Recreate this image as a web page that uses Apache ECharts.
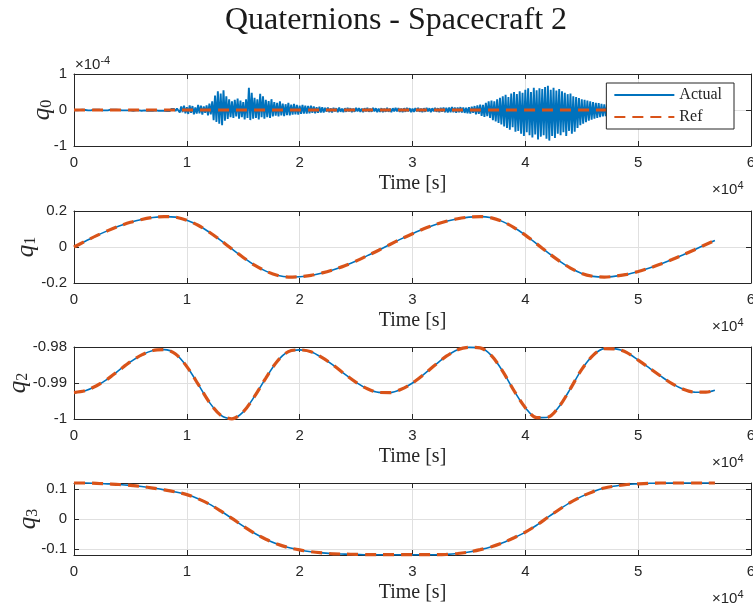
<!DOCTYPE html>
<html><head><meta charset="utf-8">
<script src="https://cdn.jsdelivr.net/npm/echarts@6/dist/echarts.min.js"></script>
<style>html,body{margin:0;padding:0;background:#fff}#c{width:753px;height:608px}</style>
</head><body><div id="c"></div>
<script>
// ---- Data ----
const timeSeconds = [0,1000,2000,3000,4000,5000,6000,7000,8000,9000,
  10000,11000,12000,13000,14000,15000,16000,17000,18000,19000,
  20000,21000,22000,23000,24000,25000,26000,27000,28000,29000,
  30000,31000,32000,33000,34000,35000,36000,37000,38000,39000,
  40000,41000,42000,43000,44000,45000,46000,47000,48000,49000,
  50000,51000,52000,53000,54000,55000,56000,56800];

// q0 (Actual) in units of 1e-4, sampled every 125 s from 0 s
const q0SampleStep = 125;
const q0ActualE4 = [
  // 0 - 9.1 ks : quiet
  0.00,0.01,-0.01,0.01,0.00,-0.01,0.01,-0.01,0.00,0.01,
  -0.01,0.01,-0.01,0.00,0.01,-0.01,0.01,-0.01,0.01,0.00,
  -0.01,0.01,-0.01,0.01,-0.01,0.00,0.01,-0.01,0.01,-0.01,
  0.01,-0.01,0.00,0.01,-0.01,0.01,-0.01,0.01,-0.01,0.01,
  -0.01,0.01,-0.02,0.01,-0.01,0.02,-0.01,0.01,-0.02,0.02,
  -0.01,0.02,-0.02,0.01,-0.02,0.02,-0.02,0.02,-0.01,0.02,
  -0.02,0.02,-0.02,0.03,-0.02,0.02,-0.03,0.02,-0.03,0.03,
  -0.02,0.03,-0.03,0.04,
  // 9.25 - 22.1 ks : first disturbance
  0.05,-0.07,0.10,-0.06,0.12,-0.09,0.08,-0.11,0.13,-0.08,
  0.11,-0.12,0.07,-0.10,0.14,-0.09,0.12,-0.13,0.10,-0.08,
  0.13,-0.15,0.18,-0.12,0.24,-0.28,0.40,-0.33,0.52,-0.38,
  0.46,-0.42,0.55,-0.30,0.38,-0.25,0.30,-0.20,0.24,-0.22,
  0.28,-0.18,0.32,-0.24,0.26,-0.20,0.22,-0.26,0.30,-0.22,
  0.62,-0.28,0.48,-0.24,0.34,-0.22,0.30,-0.26,0.45,-0.20,
  0.38,-0.24,0.28,-0.20,0.25,-0.22,0.30,-0.18,0.22,-0.16,
  0.20,-0.18,0.24,-0.15,0.18,-0.17,0.16,-0.14,0.20,-0.15,
  0.15,-0.13,0.17,-0.12,0.14,-0.13,0.12,-0.11,0.14,-0.10,
  0.12,-0.10,0.11,-0.09,0.12,-0.08,0.10,-0.09,0.08,-0.08,
  0.09,-0.07,0.08,-0.07,
  // 22.25 - 34.4 ks : low level
  0.06,-0.05,0.07,-0.06,0.05,-0.07,0.06,-0.04,0.05,-0.06,
  0.07,-0.05,0.04,-0.06,0.05,-0.05,0.06,-0.04,0.05,-0.06,
  0.04,-0.05,0.06,-0.04,0.05,-0.05,0.04,-0.06,0.05,-0.04,
  0.06,-0.05,0.04,-0.05,0.06,-0.04,0.05,-0.06,0.04,-0.05,
  0.05,-0.06,0.04,-0.05,0.06,-0.05,0.04,-0.06,0.05,-0.04,
  0.06,-0.04,0.05,-0.05,0.04,-0.06,0.05,-0.05,0.06,-0.04,
  0.05,-0.06,0.04,-0.05,0.05,-0.04,0.06,-0.05,0.04,-0.06,
  0.05,-0.05,0.06,-0.04,0.05,-0.06,0.05,-0.04,0.06,-0.05,
  0.05,-0.06,0.06,-0.05,0.07,-0.06,0.06,-0.07,0.07,-0.06,
  0.08,-0.06,0.07,-0.08,0.07,-0.06,0.08,-0.07,
  // 34.5 - 48.1 ks : second disturbance
  0.07,-0.08,0.06,-0.09,0.08,-0.10,0.09,-0.08,0.11,-0.12,
  0.13,-0.11,0.15,-0.16,0.14,-0.19,0.20,-0.17,0.24,-0.22,
  0.26,-0.28,0.24,-0.32,0.30,-0.36,0.34,-0.40,0.38,-0.46,
  0.42,-0.50,0.36,-0.55,0.46,-0.48,0.50,-0.60,0.44,-0.58,
  0.52,-0.66,0.48,-0.72,0.56,-0.62,0.60,-0.70,0.50,-0.76,
  0.62,-0.68,0.55,-0.82,0.60,-0.74,0.58,-0.70,0.64,-0.80,
  0.67,-0.85,0.56,-0.72,0.62,-0.78,0.54,-0.66,0.58,-0.70,
  0.52,-0.62,0.48,-0.72,0.44,-0.58,0.46,-0.66,0.38,-0.60,
  0.36,-0.50,0.33,-0.42,0.30,-0.38,0.28,-0.34,0.26,-0.30,
  0.24,-0.27,0.22,-0.24,0.20,-0.22,0.19,-0.20,0.17,-0.18,
  0.16,-0.17,0.15,-0.14,0.13,-0.14,0.12,-0.12,0.11,-0.11,
  // 48.25 - 56.75 ks : decay
  0.10,-0.10,0.09,-0.10,0.10,-0.09,0.08,-0.09,0.09,-0.08,
  0.08,-0.08,0.07,-0.08,0.08,-0.07,0.07,-0.07,0.06,-0.07,
  0.07,-0.06,0.06,-0.06,0.05,-0.06,0.06,-0.05,0.05,-0.05,
  0.06,-0.05,0.05,-0.04,0.05,-0.05,0.04,-0.05,0.04,-0.04,
  0.05,-0.04,0.04,-0.04,0.03,-0.04,0.04,-0.03,0.04,-0.03,
  0.03,-0.04,0.03,-0.03,0.04,-0.03,0.03,-0.03,0.02,-0.03,
  0.03,-0.02,0.03,-0.03,0.02,-0.03,0.02,-0.02,0.03
];
const q0RefE4 = [0,0,0,0,0,0,0,0,0,0, 0,0,0,0,0,0,0,0,0,0, 0,0,0,0,0,0,0,0,0,0,
  0,0,0,0,0,0,0,0,0,0, 0,0,0,0,0,0,0,0,0,0, 0,0,0,0,0,0,0,0];

const q1Actual = [0.000,0.032,0.063,0.091,0.116,0.137,0.153,0.164,0.169,0.166,
  0.149,0.121,0.082,0.037,-0.011,-0.058,-0.101,-0.134,-0.157,-0.167,
  -0.165,-0.158,-0.144,-0.126,-0.104,-0.078,-0.048,-0.018,0.014,0.045,
  0.074,0.101,0.124,0.143,0.157,0.166,0.169,0.162,0.141,0.108,
  0.066,0.018,-0.031,-0.077,-0.117,-0.147,-0.163,-0.167,-0.162,-0.152,
  -0.136,-0.117,-0.095,-0.070,-0.043,-0.015,0.014,0.036];
const q1Ref = q1Actual.slice();

const q2Actual = [-0.99265,-0.99214,-0.99077,-0.98884,-0.98645,-0.98411,-0.98220,-0.98096,-0.98074,-0.98192,
  -0.98544,-0.99032,-0.99538,-0.99895,-0.99994,-0.99803,-0.99373,-0.98864,-0.98402,-0.98127,
  -0.98080,-0.98130,-0.98298,-0.98510,-0.98755,-0.98983,-0.99161,-0.99261,-0.99267,-0.99175,
  -0.99001,-0.98762,-0.98500,-0.98255,-0.98077,-0.98010,-0.98022,-0.98240,-0.98677,-0.99215,
  -0.99685,-0.99962,-0.99950,-0.99652,-0.99155,-0.98621,-0.98233,-0.98045,-0.98053,-0.98155,
  -0.98365,-0.98585,-0.98809,-0.99018,-0.99172,-0.99254,-0.99255,-0.99200];
const q2Ref = q2Actual.slice();

const q3Actual = [0.121,0.121,0.120,0.118,0.116,0.113,0.109,0.104,0.098,0.091,
  0.082,0.068,0.050,0.027,0.002,-0.024,-0.048,-0.068,-0.084,-0.096,
  -0.104,-0.110,-0.114,-0.117,-0.118,-0.119,-0.120,-0.120,-0.120,-0.120,
  -0.120,-0.120,-0.120,-0.119,-0.116,-0.111,-0.103,-0.093,-0.080,-0.063,
  -0.044,-0.021,0.006,0.032,0.056,0.076,0.092,0.104,0.111,0.116,
  0.118,0.120,0.121,0.121,0.121,0.121,0.121,0.121];
const q3Ref = q3Actual.slice();

const yLabelNames = ['0','1','2','3'];
const q3TickValues = [-0.1, 0, 0.1];

// ---- Build ----
const pairs = (xs, ys) => ys.map((v, i) => [xs[i], v]);
const q0Times = q0ActualE4.map((_, i) => i * q0SampleStep);

const panels = [
  {top: 74, height: 72, min: -1, max: 1, interval: 1, gap: 19, actual: pairs(q0Times, q0ActualE4), ref: pairs(timeSeconds, q0RefE4), aw: 1.9},
  {top: 211, height: 72, min: -0.2, max: 0.2, interval: 0.2, gap: 35, actual: pairs(timeSeconds, q1Actual), ref: pairs(timeSeconds, q1Ref), aw: 1.6},
  {top: 347, height: 72, min: -1, max: -0.98, interval: 0.01, gap: 43, actual: pairs(timeSeconds, q2Actual), ref: pairs(timeSeconds, q2Ref), aw: 1.6},
  {top: 483, height: 72, min: -0.121, max: 0.121, custom: q3TickValues, gap: 33, actual: pairs(timeSeconds, q3Actual), ref: pairs(timeSeconds, q3Ref), aw: 1.6}
];

const axisColor = '#262626';
const gridColor = '#e0e0e0';
const tickFont = {color: axisColor, fontSize: 15, fontFamily: 'Liberation Sans'};

const grid = [], xAxis = [], yAxis = [], series = [], graphic = [];
panels.forEach((p, i) => {
  grid.push({left: 74, width: 677, top: p.top, height: p.height, containLabel: false, outerBoundsMode: 'none'});
  xAxis.push({
    gridIndex: i, type: 'value', min: 0, max: 60000, interval: 10000, position: 'bottom',
    axisLine: {show: true, onZero: false, lineStyle: {color: axisColor, width: 1}},
    axisTick: {show: true, inside: true, length: 5, lineStyle: {color: axisColor}},
    axisLabel: Object.assign({formatter: v => String(v / 10000), margin: 9, hideOverlap: false}, tickFont),
    splitLine: {show: true, lineStyle: {color: gridColor, width: 1}},
    name: 'Time [s]', nameLocation: 'middle', nameGap: 28, nameMoveOverlap: false,
    nameTextStyle: {fontFamily: 'Liberation Serif', fontSize: 20, color: axisColor}
  });
  xAxis.push({
    gridIndex: i, type: 'value', min: 0, max: 60000, interval: 10000, position: 'top',
    axisLine: {show: true, onZero: false, lineStyle: {color: axisColor, width: 1}},
    axisTick: {show: true, inside: true, length: 5, lineStyle: {color: axisColor}},
    axisLabel: {show: false}, splitLine: {show: false}
  });
  const yBase = {gridIndex: i, type: 'value', min: p.min, max: p.max};
  if (p.custom) {
    yBase.axisLabel = Object.assign({customValues: p.custom, margin: 7}, tickFont);
    yBase.axisTick = {show: true, inside: true, length: 5, customValues: p.custom, lineStyle: {color: axisColor}};
  } else {
    yBase.interval = p.interval;
    yBase.axisLabel = Object.assign({margin: 7}, tickFont);
    yBase.axisTick = {show: true, inside: true, length: 5, lineStyle: {color: axisColor}};
  }
  yAxis.push(Object.assign({}, yBase, {
    position: 'left',
    axisLine: {show: true, onZero: false, lineStyle: {color: axisColor, width: 1}},
    splitLine: {show: true, lineStyle: {color: gridColor, width: 1}},
    name: '{q|q}{s|' + yLabelNames[i] + '}', nameLocation: 'middle', nameGap: p.gap, nameRotate: 90,
    nameMoveOverlap: false,
    nameTextStyle: {rich: {
      q: {fontFamily: 'Liberation Serif', fontStyle: 'italic', fontSize: 25, color: axisColor, lineHeight: 26},
      s: {fontFamily: 'Liberation Serif', fontSize: 16, color: axisColor, lineHeight: 26, verticalAlign: 'bottom', padding: [9, 0, 0, 0]}
    }}
  }));
  yAxis.push(Object.assign({}, yBase, {
    position: 'right',
    axisLine: {show: true, onZero: false, lineStyle: {color: axisColor, width: 1}},
    axisLabel: {show: false}, splitLine: {show: false}
  }));
  series.push({
    name: 'Actual', type: 'line', xAxisIndex: 2 * i, yAxisIndex: 2 * i, data: p.actual,
    symbol: 'none', showSymbol: false, clip: false, smooth: i === 0 ? false : 0.3,
    lineStyle: {color: '#0072BD', width: p.aw}, itemStyle: {color: '#0072BD'}, z: 2
  });
  series.push({
    name: 'Ref', type: 'line', xAxisIndex: 2 * i, yAxisIndex: 2 * i, data: p.ref,
    symbol: 'none', showSymbol: false, clip: false, smooth: 0.3,
    lineStyle: {color: '#D95319', width: 3.2, type: [11, 7]}, itemStyle: {color: '#D95319'}, z: 3
  });
  graphic.push({
    type: 'text', left: 712, top: p.top + p.height + 34, z: 10,
    style: {text: '{a|×10}{b|4}', rich: {
      a: {fontFamily: 'Liberation Sans', fontSize: 15, fill: axisColor},
      b: {fontFamily: 'Liberation Sans', fontSize: 11, fill: axisColor, verticalAlign: 'top', padding: [0, 0, 8, 0]}
    }}
  });
});

graphic.push({
  type: 'text', left: 75, top: 55, z: 10,
  style: {text: '{a|×10}{b|-4}', rich: {
    a: {fontFamily: 'Liberation Sans', fontSize: 15, fill: axisColor},
    b: {fontFamily: 'Liberation Sans', fontSize: 11, fill: axisColor, verticalAlign: 'top', padding: [0, 0, 8, 0]}
  }}
});
graphic.push({
  type: 'text', x: 396, y: 21, z: 10,
  style: {text: 'Quaternions - Spacecraft 2', font: '32px "Liberation Serif"', fill: '#1a1a1a', align: 'center', verticalAlign: 'middle'}
});

const option = {
  animation: false,
  backgroundColor: '#ffffff',
  grid, xAxis, yAxis, series, graphic,
  legend: {
    data: ['Actual', 'Ref'], orient: 'vertical', right: 19, top: 83,
    itemWidth: 60, itemHeight: 12, itemGap: 6, itemTextGap: 5,
    padding: [4, 12, 4, 7],
    itemStyle: {opacity: 0},
    backgroundColor: '#ffffff', borderColor: axisColor, borderWidth: 1, borderRadius: 0,
    textStyle: {fontFamily: 'Liberation Serif', fontSize: 16, color: axisColor},
    z: 20
  }
};
const chart = echarts.init(document.getElementById('c'), null, {renderer: 'canvas'});
chart.setOption(option);
</script>
</body></html>
